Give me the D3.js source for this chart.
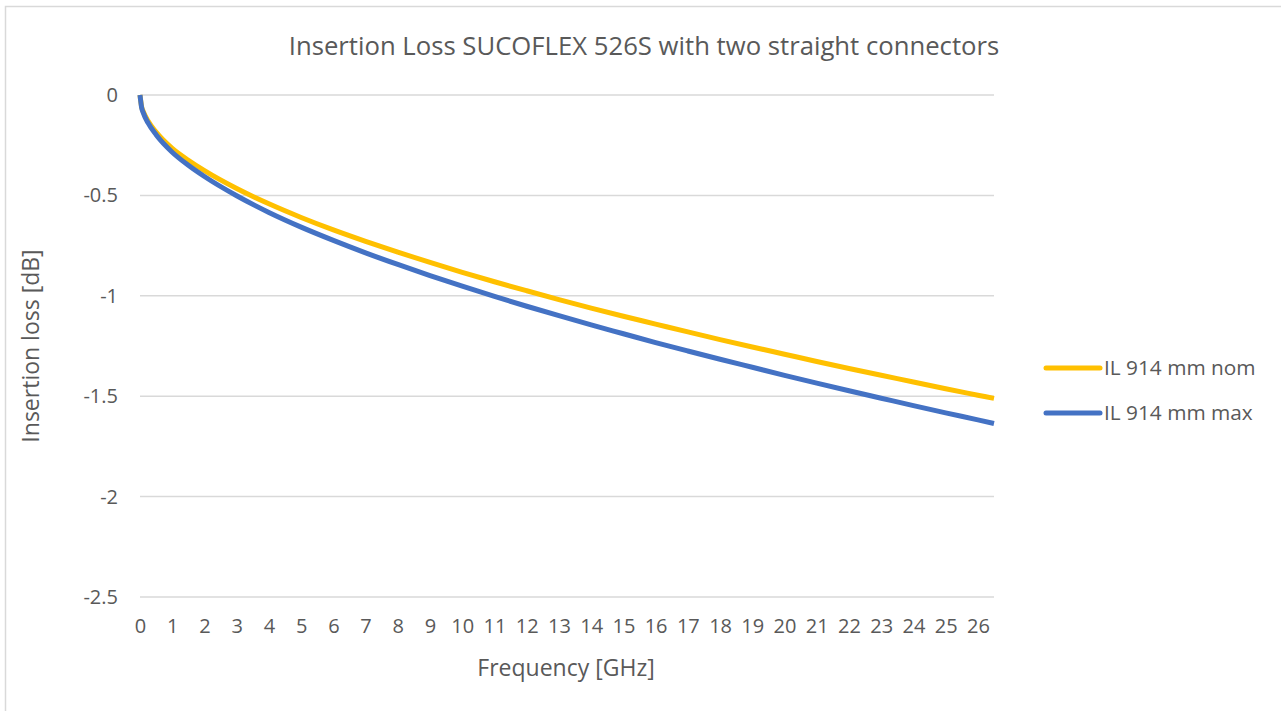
<!DOCTYPE html>
<html>
<head>
<meta charset="utf-8">
<script src="https://cdn.jsdelivr.net/npm/d3@7"></script>
<style>
  body { margin: 0; background: #fff; }
  text { font-family: "Open Sans", sans-serif; fill: #595959; }
</style>
</head>
<body>
<div id="chart"></div>
<script>
// values
const freqs = [0, 0.05, 0.1, 0.25, 0.5, 1, 1.5, 2, 3, 4, 5, 6, 7, 8, 9, 10, 11, 12, 13, 14, 15, 16, 17, 18, 19, 20, 21, 22, 23, 24, 25, 26, 26.5];
const ilNom = [0, -0.058, -0.082, -0.13, -0.185, -0.266, -0.325, -0.377, -0.466, -0.542, -0.61, -0.672, -0.729, -0.783, -0.834, -0.883, -0.93, -0.975, -1.019, -1.061, -1.102, -1.141, -1.18, -1.218, -1.255, -1.291, -1.327, -1.362, -1.396, -1.429, -1.463, -1.495, -1.511];
const ilMax = [0, -0.062, -0.088, -0.139, -0.198, -0.285, -0.35, -0.406, -0.502, -0.585, -0.658, -0.724, -0.786, -0.844, -0.899, -0.952, -1.003, -1.052, -1.099, -1.145, -1.189, -1.233, -1.275, -1.316, -1.356, -1.396, -1.435, -1.473, -1.51, -1.547, -1.583, -1.618, -1.636];
const xTicks = d3.range(0, 27);
const yTicks = [0, -0.5, -1, -1.5, -2, -2.5];
const seriesNames = ["IL 914 mm nom", "IL 914 mm max"];
const seriesColors = ["#FFC000", "#4472C4"];

const fullWidth = 1281;
const fullHeight = 711;

const svg = d3
  .select("#chart")
  .append("svg")
  .attr("width", fullWidth)
  .attr("height", fullHeight);

// chart area border (right/bottom edges are cropped off in the reference)
svg
  .append("rect")
  .attr("x", 5.5)
  .attr("y", 6.5)
  .attr("width", fullWidth + 20)
  .attr("height", fullHeight + 20)
  .style("fill", "none")
  .style("stroke", "#d9d9d9")
  .style("stroke-width", 1.5);

const x = d3.scaleLinear().domain([0, 26.5]).range([140, 994]);
const y = d3.scaleLinear().domain([-2.5, 0]).range([597, 95]);

// gridlines
svg
  .append("g")
  .selectAll("line")
  .data(yTicks)
  .enter()
  .append("line")
  .attr("x1", x(0))
  .attr("x2", x(26.5))
  .attr("y1", d => y(d))
  .attr("y2", d => y(d))
  .style("stroke", "#d9d9d9")
  .style("stroke-width", 1.5);

// y axis labels (plain hyphen as minus, like Excel)
const yAxis = d3.axisLeft(y).tickValues(yTicks).tickSize(0).tickPadding(0).tickFormat(d => String(d));
svg
  .append("g")
  .attr("transform", "translate(118,0)")
  .call(yAxis)
  .call(g => g.select(".domain").remove())
  .selectAll("text")
  .style("font-size", "20px")
  .style("font-family", "Open Sans, sans-serif")
  .attr("fill", "#595959");

// x axis labels
const xAxis = d3.axisBottom(x).tickValues(xTicks).tickSize(0).tickPadding(0);
svg
  .append("g")
  .attr("transform", "translate(0,619)")
  .call(xAxis)
  .call(g => g.select(".domain").remove())
  .selectAll("text")
  .style("font-size", "20px")
  .style("font-family", "Open Sans, sans-serif")
  .attr("fill", "#595959");

// series
const line = d3
  .line()
  .x((d, i) => x(freqs[i]))
  .y(d => y(d))
  .curve(d3.curveMonotoneX);

[ilNom, ilMax].forEach((vals, i) => {
  svg
    .append("path")
    .datum(vals)
    .attr("d", line)
    .style("fill", "none")
    .style("stroke", seriesColors[i])
    .style("stroke-width", 5)
    .style("stroke-linejoin", "round");
});

// title
svg
  .append("text")
  .attr("x", 644)
  .attr("y", 55)
  .attr("text-anchor", "middle")
  .style("font-size", "25.7px")
  .text("Insertion Loss SUCOFLEX 526S with two straight connectors");

// axis titles
svg
  .append("text")
  .attr("x", 566)
  .attr("y", 676)
  .attr("text-anchor", "middle")
  .style("font-size", "23px")
  .text("Frequency [GHz]");

svg
  .append("text")
  .attr("transform", "translate(39,346) rotate(-90)")
  .attr("text-anchor", "middle")
  .style("font-size", "23px")
  .text("Insertion loss [dB]");

// legend
const legend = svg
  .selectAll(".legend")
  .data(seriesNames)
  .enter()
  .append("g")
  .attr("class", "legend")
  .attr("transform", (d, i) => `translate(1046, ${368 + i * 45})`);

legend
  .append("line")
  .attr("x1", 0)
  .attr("x2", 54)
  .style("stroke", (d, i) => seriesColors[i])
  .style("stroke-width", 5)
  .style("stroke-linecap", "round");

legend
  .append("text")
  .attr("x", 58)
  .attr("dy", "0.35em")
  .style("font-size", "20.8px")
  .text(d => d);
</script>
</body>
</html>
